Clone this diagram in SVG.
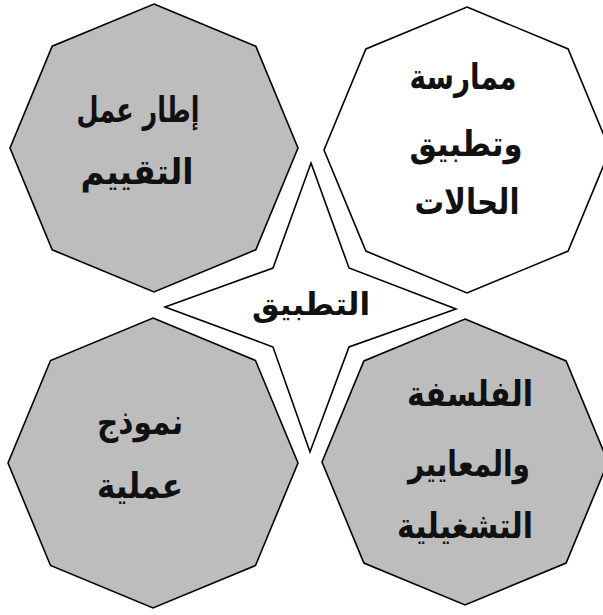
<svg xmlns="http://www.w3.org/2000/svg" width="603" height="615" viewBox="0 0 603 615">
<style>
.oct{stroke:#000;stroke-width:1.6;stroke-linejoin:miter}
.gray{fill:#bdbdbd}
.white{fill:#fff}
.t{font-family:"DejaVu Sans",sans-serif;font-weight:bold;font-size:35px;fill:#111;text-anchor:middle;direction:rtl}
</style>
<rect width="603" height="615" fill="#fff"/>
<g id="node-tl">
<polygon class="oct gray" points="154,4 255.8,46.2 298,148 255.8,249.8 154,292 52.2,249.8 10,148 52.2,46.2"/>
<text class="t" x="138" y="122" textLength="123" lengthAdjust="spacingAndGlyphs">إطار عمل</text>
<text class="t" x="137" y="184" textLength="113" lengthAdjust="spacingAndGlyphs">التقييم</text>
</g>
<g id="node-tr">
<polygon class="oct white" points="467,7 568.1,48.9 610,150 568.1,251.1 467,293 365.9,251.1 324,150 365.9,48.9"/>
<text class="t" x="463" y="89" textLength="107" lengthAdjust="spacingAndGlyphs">ممارسة</text>
<text class="t" x="466" y="156" textLength="113" lengthAdjust="spacingAndGlyphs">وتطبيق</text>
<text class="t" x="467" y="214" textLength="105" lengthAdjust="spacingAndGlyphs">الحالات</text>
</g>
<g id="node-bl">
<polygon class="oct gray" points="153,318 255.5,360.5 298,463 255.5,565.5 153,608 50.5,565.5 8,463 50.5,360.5"/>
<text class="t" x="140" y="434" textLength="86" lengthAdjust="spacingAndGlyphs">نموذج</text>
<text class="t" x="140" y="498" textLength="86" lengthAdjust="spacingAndGlyphs">عملية</text>
</g>
<g id="node-br">
<polygon class="oct gray" points="465,319 566.1,360.9 608,462 566.1,563.1 465,605 363.9,563.1 322,462 363.9,360.9"/>
<text class="t" x="470" y="406" textLength="126" lengthAdjust="spacingAndGlyphs">الفلسفة</text>
<text class="t" x="469" y="476" textLength="122" lengthAdjust="spacingAndGlyphs">والمعايير</text>
<text class="t" x="465" y="538" textLength="136" lengthAdjust="spacingAndGlyphs">التشغيلية</text>
</g>
<g id="node-center">
<polygon class="oct white" points="311,163 349,268 456,309 349,347 310,452 273,347 165,307 273,268"/>
<text class="t" x="311" y="315" style="font-size:31px" textLength="118" lengthAdjust="spacingAndGlyphs">التطبيق</text>
</g>
<g id="connectors"></g>
</svg>
